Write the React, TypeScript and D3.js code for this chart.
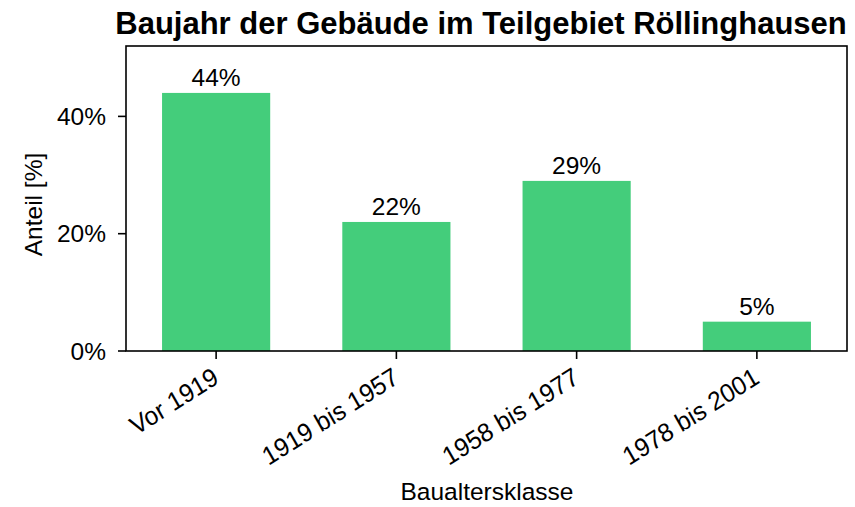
import React from "react";
import * as d3 from "d3";

const categories = ["Vor 1919", "1919 bis 1957", "1958 bis 1977", "1978 bis 2001"];
const values = [44, 22, 29, 5];
const yTicks = [0, 20, 40];
const title = "Baujahr der Gebäude im Teilgebiet Röllinghausen";
const xLabel = "Baualtersklasse";
const yLabel = "Anteil [%]";

const W = 855, H = 507;
const M = { left: 126, right: 8, top: 46, bottom: 156 };
const FONT = "Arial, 'Liberation Sans', sans-serif";
const BAR = "#44CD7B";
const FS = 24.5;

export default function App() {
  const x = d3.scaleBand<string>().domain(categories).range([M.left, W - M.right]).paddingInner(0.4).paddingOuter(0.2);
  const y = d3.scaleLinear().domain([0, 52]).range([H - M.bottom, M.top]);
  const y0 = y(0);
  return (
    <svg width={W} height={H} style={{ position: "absolute", left: 0, top: 0 }} fontFamily={FONT}>
      <rect width={W} height={H} fill="#fff" />
      <text x={481} y={34} textAnchor="middle" fontSize={31} fontWeight="bold">{title}</text>
      {categories.map((c, i) => (
        <g key={c}>
          <rect x={x(c)} y={y(values[i])} width={x.bandwidth()} height={y0 - y(values[i])} fill={BAR} />
          <text x={x(c)! + x.bandwidth() / 2} y={y(values[i]) - 7} textAnchor="middle" fontSize={FS}>{values[i]}%</text>
        </g>
      ))}
      <rect x={M.left} y={M.top} width={W - M.right - M.left} height={y0 - M.top} fill="none" stroke="#000" strokeWidth={1.6} />
      {yTicks.map(t => (
        <g key={t}>
          <line x1={M.left - 8} x2={M.left} y1={y(t)} y2={y(t)} stroke="#000" strokeWidth={1.6} />
          <text x={M.left - 20} y={y(t)} dy="0.35em" textAnchor="end" fontSize={FS}>{t}%</text>
        </g>
      ))}
      {categories.map(c => {
        const cx = x(c)! + x.bandwidth() / 2;
        return (
          <g key={"t" + c}>
            <line x1={cx} x2={cx} y1={y0} y2={y0 + 8} stroke="#000" strokeWidth={1.6} />
            <text transform={`translate(${cx - 5},${y0 + 15}) scale(1,1.06) rotate(-31)`} textAnchor="end" dy="0.72em" fontSize={FS}>{c}</text>
          </g>
        );
      })}
      <text x={487} y={500} textAnchor="middle" fontSize={FS}>{xLabel}</text>
      <text transform={`translate(42,${(M.top + y0) / 2 + 6}) rotate(-90)`} textAnchor="middle" fontSize={FS}>{yLabel}</text>
    </svg>
  );
}
